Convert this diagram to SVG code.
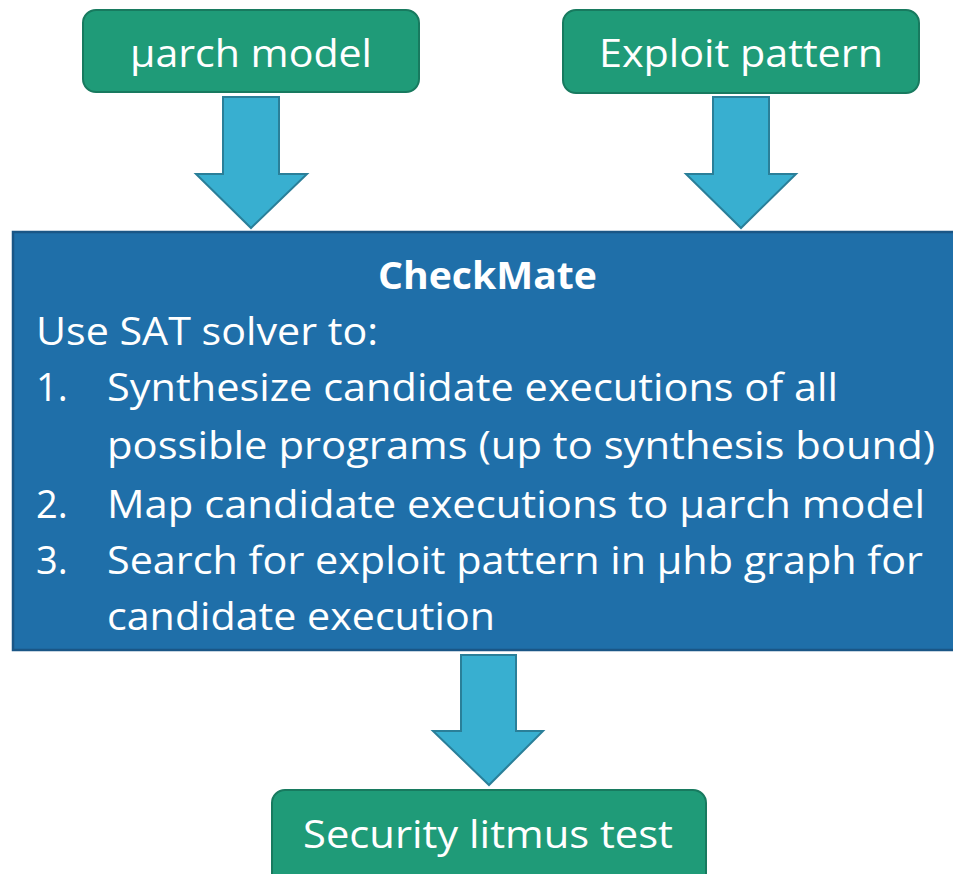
<svg xmlns="http://www.w3.org/2000/svg" width="953" height="874" viewBox="0 0 953 874">
<style>
.green{fill:#1f9b78;stroke:#187a5f;stroke-width:2}
.blue{fill:#1f6fa9;stroke:#1a5686;stroke-width:2.5}
.arrow{fill:#38afd0;stroke:#2a7f99;stroke-width:2;stroke-linejoin:miter}
.t{font-family:"Open Sans","Liberation Sans",sans-serif;fill:#ffffff}
.big{font-size:38px}
.b{font-weight:bold}
</style>
<rect width="953" height="874" fill="#ffffff"/>
<g id="connectors">
<polygon class="arrow" points="223,97 279,97 279,174 307,174 251,228 196,174 223,174"/>
<polygon class="arrow" points="713,97 769,97 769,174 796,174 741,228 686,174 713,174"/>
<polygon class="arrow" points="461,655 516,655 516,731 543,731 489,785 433,731 461,731"/>
</g>
<g id="uarch">
<rect class="green" x="83" y="10" width="336" height="82" rx="13"/>
<text class="t big" x="130" y="67" textLength="242" lengthAdjust="spacingAndGlyphs">µarch model</text>
</g>
<g id="exploit">
<rect class="green" x="563" y="10" width="356" height="83" rx="13"/>
<text class="t big" x="599" y="67" textLength="284" lengthAdjust="spacingAndGlyphs">Exploit pattern</text>
</g>
<g id="checkmate">
<rect class="blue" x="13" y="232" width="950" height="418"/>
<text class="t big b" x="378" y="289" textLength="219" lengthAdjust="spacingAndGlyphs">CheckMate</text>
<text class="t big" x="36" y="345" textLength="342" lengthAdjust="spacingAndGlyphs">Use SAT solver to:</text>
<text class="t big" x="36" y="401">1.</text>
<text class="t big" x="107" y="401" textLength="731" lengthAdjust="spacingAndGlyphs">Synthesize candidate executions of all</text>
<text class="t big" x="107" y="459" textLength="828" lengthAdjust="spacingAndGlyphs">possible programs (up to synthesis bound)</text>
<text class="t big" x="36" y="518">2.</text>
<text class="t big" x="107" y="518" textLength="818" lengthAdjust="spacingAndGlyphs">Map candidate executions to µarch model</text>
<text class="t big" x="36" y="574">3.</text>
<text class="t big" x="107" y="574" textLength="816" lengthAdjust="spacingAndGlyphs">Search for exploit pattern in µhb graph for</text>
<text class="t big" x="107" y="630" textLength="388" lengthAdjust="spacingAndGlyphs">candidate execution</text>
</g>
<g id="litmus">
<rect class="green" x="272" y="790" width="434" height="100" rx="13"/>
<text class="t big" x="303" y="848" textLength="370" lengthAdjust="spacingAndGlyphs">Security litmus test</text>
</g>
</svg>
